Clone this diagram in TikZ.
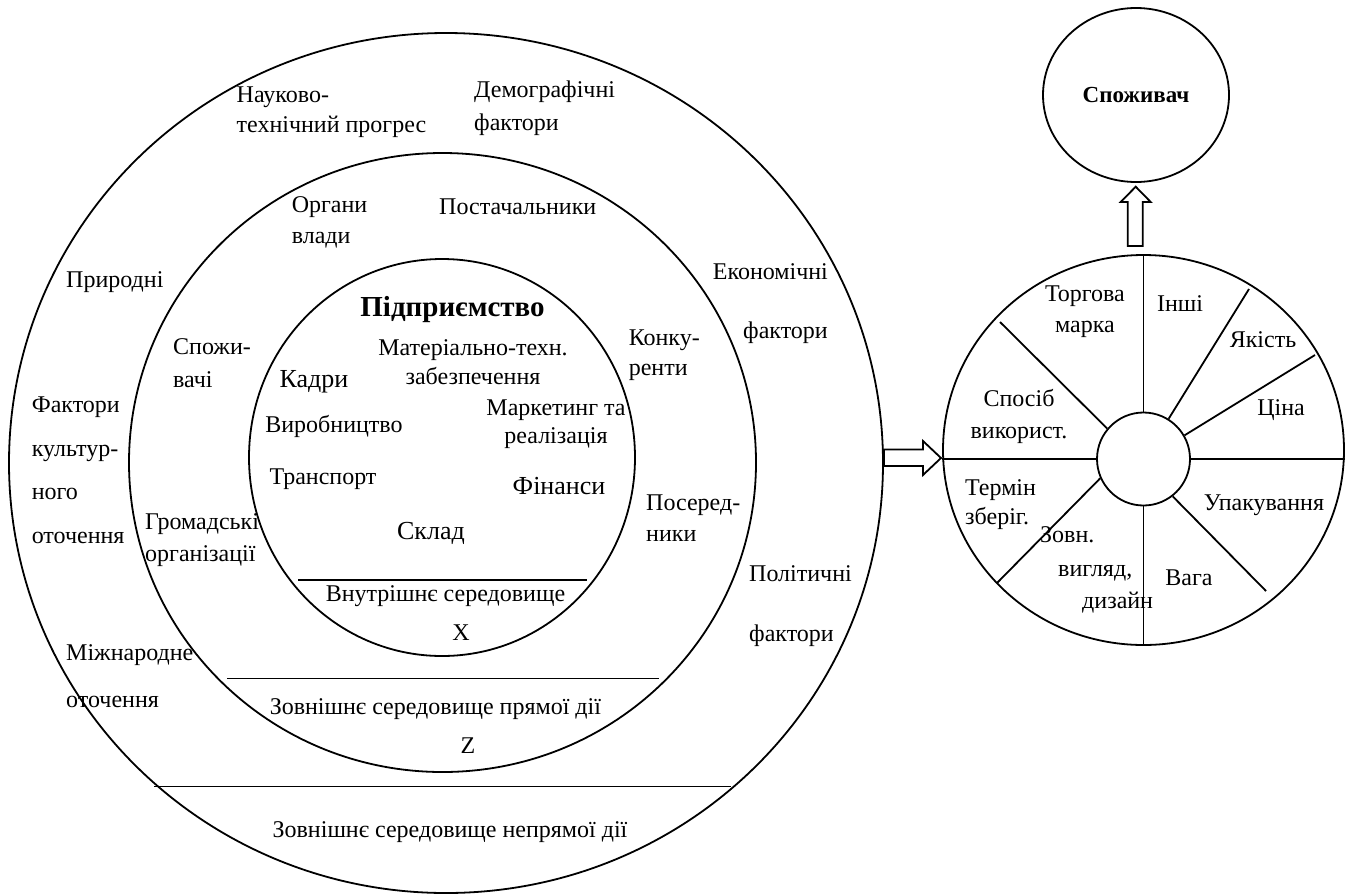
\documentclass[tikz,border=0pt]{standalone}
\usepackage{fontspec}
\setmainfont{Liberation Serif}
\usetikzlibrary{shapes.geometric}
\begin{document}
\begin{tikzpicture}[x=1pt,y=-1pt,
  ln/.style={line width=1.8pt},
  ring/.style={draw, ellipse, line width=1.8pt, inner sep=0pt},
  lab/.style={inner sep=0pt, font=\fontsize{24}{#1}\selectfont},
  lab/.default=30,
  big/.style={inner sep=0pt, font=\fontsize{26}{30}\selectfont},
  bold/.style={inner sep=0pt, font=\bfseries\fontsize{#1}{30}\selectfont},
  blockarrow/.style={line width=1.8pt, fill=white, line join=miter}
]
\path[use as bounding box] (0,0) rectangle (1349,895);

% --- left diagram: three nested rings
\node[ring, minimum width=874pt, minimum height=860pt] (outer) at (446,463) {};
\node[ring, minimum width=627pt, minimum height=619pt] (middle) at (442.5,462.5) {};
\node[ring, minimum width=386pt, minimum height=397pt] (inner) at (442,457.5) {};

% dividing lines
\draw[ln] (298,580) -- (587,580);
\draw[ln] (227,678.5) -- (659,678.5);
\draw[ln] (154,786.5) -- (731,786.5);

% outer ring labels
\node[lab=30, align=left, anchor=west] (nauk) at (236.5,112.5) {Науково-\\технічний прогрес};
\node[lab=33, align=left, anchor=west] (demo) at (474,108.3) {Демографічні\\фактори};
\node[lab, anchor=west] (pryrod) at (66,282) {Природні};
\node[lab=59, align=right, anchor=east] (econ) at (828,303.5) {Економічні\\фактори};
\node[lab=43.5, align=left, anchor=west] (kult) at (31.6,470) {Фактори\\культур-\\ного\\оточення};
\node[lab=60, align=left, anchor=west] (polit) at (749,606) {Політичні\\фактори};
\node[lab=47, align=left, anchor=west] (mizhn) at (66,676.5) {Міжнародне\\оточення};
\node[lab] (nepr) at (450,832) {Зовнішнє середовище непрямої дії};

% middle ring labels
\node[lab=31, align=left, anchor=west] (organy) at (291.6,222.5) {Органи\\влади};
\node[lab, anchor=west] (postach) at (439,207) {Постачальники};
\node[lab=33, align=left, anchor=west] (spozh) at (173,363.5) {Спожи-\\вачі};
\node[lab=30, align=left, anchor=west] (konk) at (628.6,355) {Конку-\\ренти};
\node[lab=32, align=left, anchor=west] (hrom) at (145,539.6) {Громадські\\організації};
\node[lab=31, align=left, anchor=west] (poser) at (646,518.5) {Посеред-\\ники};
\node[lab] (pryam) at (435.4,709) {Зовнішнє середовище прямої дії};
\node[lab] (zz) at (468,746) {Z};

% inner ring labels
\node[bold=29] (pidpr) at (452.5,310) {Підприємство};
\node[lab=29, align=center] (mtz) at (473,362.5) {Матеріально-техн.\\забезпечення};
\node[big] (kadry) at (314,382) {Кадри};
\node[lab] (vyrob) at (334,426) {Виробництво};
\node[lab=28, align=center] (mark) at (556,424) {Маркетинг та\\реалізація};
\node[lab] (transp) at (323,479) {Транспорт};
\node[big] (fin) at (559,486) {Фінанси};
\node[big] (sklad) at (431,533) {Склад};
\node[lab] (vnutr) at (445.5,596) {Внутрішнє середовище};
\node[lab] (xx) at (461,633) {X};

% --- right: consumer and product wheel
\node[ring, minimum width=186pt, minimum height=174pt, font=\bfseries\fontsize{23}{28}\selectfont] (spoz) at (1136,95) {Споживач};
\node[ring, minimum width=401pt, minimum height=390pt] (wheel) at (1143.5,450) {};
\node[draw, circle, line width=1.8pt, inner sep=0pt, minimum size=93pt] (hub) at (1143.5,459) {};

% spokes
\draw[ln] (hub.north) -- (hub.north |- wheel.north);
\draw[ln] (hub.south) -- (hub.south |- wheel.south);
\draw[ln] (hub.west) -- (wheel.west |- hub.west);
\draw[ln] (hub.east) -- (wheel.east |- hub.east);
\draw[ln] (hub.58) -- (1249,289);
\draw[ln] (hub.30) -- (1315,355);
\draw[ln] (hub.-52) -- (1266,591);
\draw[ln] (hub.204) -- (997,583);
\draw[ln] (hub.140) -- (1000,322);

% wheel labels
\node[lab=31, align=center] (torh) at (1085,311.5) {Торгова\\марка};
\node[lab] (inshi) at (1180,304) {Інші};
\node[lab] (yakist) at (1263,340) {Якість};
\node[lab] (tsina) at (1281,410) {Ціна};
\node[lab=32, align=center] (sposib) at (1019,416) {Спосіб\\використ.};
\node[lab=29, align=left, anchor=west] (termin) at (965,504.5) {Термін\\зберіг.};
\node[lab] (upak) at (1264,505) {Упакування};
\node[lab, anchor=west] (zovn1) at (1040,535) {Зовн.};
\node[lab, anchor=west] (zovn2) at (1058,573) {вигляд,};
\node[lab, anchor=west] (zovn3) at (1082,603) {дизайн};
\node[lab] (vaha) at (1189,578) {Вага};

% block arrows
\draw[blockarrow] (884,449.5) -- (923,449.5) -- (923,441) -- (941,458) -- (923,475) -- (923,466) -- (884,466) -- cycle;
\draw[blockarrow] (1127.7,246) -- (1127.7,202) -- (1120.7,202) -- (1135.7,186.7) -- (1150.7,202) -- (1142.7,202) -- (1142.7,246) -- cycle;
\end{tikzpicture}
\end{document}
